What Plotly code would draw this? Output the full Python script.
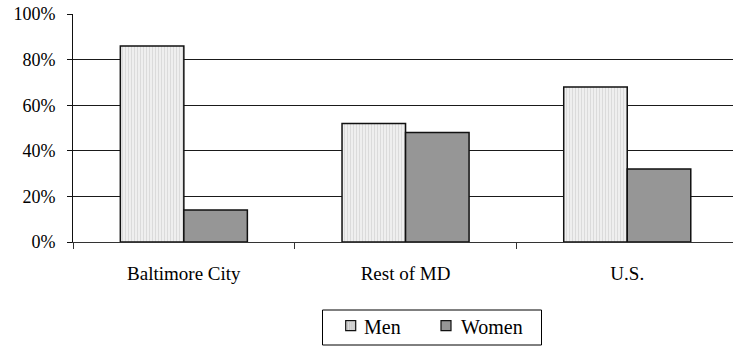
import plotly.graph_objects as go

# Share of cases by sex, per region
regions = ["Baltimore City", "Rest of MD", "U.S."]
men = [86, 52, 68]
women = [14, 48, 32]
series_names = ["Men", "Women"]

SERIF = "Times New Roman, Liberation Serif, serif"
MEN_FILL = "#ececec"
WOMEN_FILL = "#969696"
EDGE = "#111111"

W, H = 733, 347
M_L, M_R, M_T, M_B = 73, 0, 14, 105
PW, PH = W - M_L - M_R, H - M_T - M_B


def px_x(x):
    """pixel column -> paper x"""
    return (x - M_L) / PW


def px_y(y):
    """pixel row -> paper y"""
    return (H - M_B - y) / PH


fig = go.Figure()
fig.add_trace(go.Bar(
    name=series_names[0], x=regions, y=men,
    marker=dict(
        color=MEN_FILL,
        line=dict(color=EDGE, width=1.5),
        pattern=dict(shape="|", size=3, solidity=0.3,
                     fgcolor="#c4c4c4", bgcolor="#efefef"),
    ),
))
fig.add_trace(go.Bar(
    name=series_names[1], x=regions, y=women,
    marker=dict(color=WOMEN_FILL, line=dict(color=EDGE, width=1.5)),
))

yfont = dict(family=SERIF, size=18, color="#000000")
xfont = dict(family=SERIF, size=19, color="#000000")
lfont = dict(family=SERIF, size=20, color="#000000")

# Boxed legend below the axis
shapes = [dict(type="rect", xref="paper", yref="paper",
               x0=px_x(322.5), x1=px_x(541.5), y0=px_y(345), y1=px_y(310),
               line=dict(color="#000000", width=1), fillcolor="white", layer="above")]
annotations = []
swatches = [(345.7, "#dcdcdc", series_names[0], 361.5),
            (441.0, WOMEN_FILL, series_names[1], 458.5)]
for sx, fill, label, tx in swatches:
    shapes.append(dict(type="rect", xref="paper", yref="paper",
                       x0=px_x(sx), x1=px_x(sx + 10), y0=px_y(330.7), y1=px_y(320.7),
                       line=dict(color=EDGE, width=1.2), fillcolor=fill, layer="above"))
    annotations.append(dict(text=label, xref="paper", yref="paper",
                            x=px_x(tx), y=px_y(327), xanchor="left", yanchor="middle",
                            showarrow=False, font=lfont))
# stripes on the Men swatch
for i in range(4):
    xx = 347.5 + i * 2.2
    shapes.append(dict(type="line", xref="paper", yref="paper",
                       x0=px_x(xx), x1=px_x(xx), y0=px_y(330), y1=px_y(321.4),
                       line=dict(color="#bdbdbd", width=0.8), layer="above"))

fig.update_layout(
    width=W, height=H,
    margin=dict(l=M_L, r=M_R, t=M_T, b=M_B),
    paper_bgcolor="white", plot_bgcolor="white",
    barmode="group", bargap=0.427, bargroupgap=0,
    font=yfont,
    showlegend=False,
    shapes=shapes,
    annotations=annotations,
    xaxis=dict(
        range=[-0.5, 2.477], showgrid=False,
        showline=True, linecolor="#333333", linewidth=1,
        ticks="outside", tickson="boundaries", ticklen=6, tickcolor="#333333",
        tickfont=xfont, zeroline=False, ticklabelstandoff=14, automargin=False,
    ),
    yaxis=dict(
        range=[0, 100], tickvals=[0, 20, 40, 60, 80, 100],
        ticktext=["0%", "20%", "40%", "60%", "80%", "100%"],
        showgrid=True, gridcolor="#1a1a1a", gridwidth=1,
        showline=True, linecolor="#111111", linewidth=1,
        ticks="outside", ticklen=5, tickcolor="#111111",
        tickfont=yfont, zeroline=False, ticklabelstandoff=8, automargin=False,
    ),
)

fig.write_html("out.html")
